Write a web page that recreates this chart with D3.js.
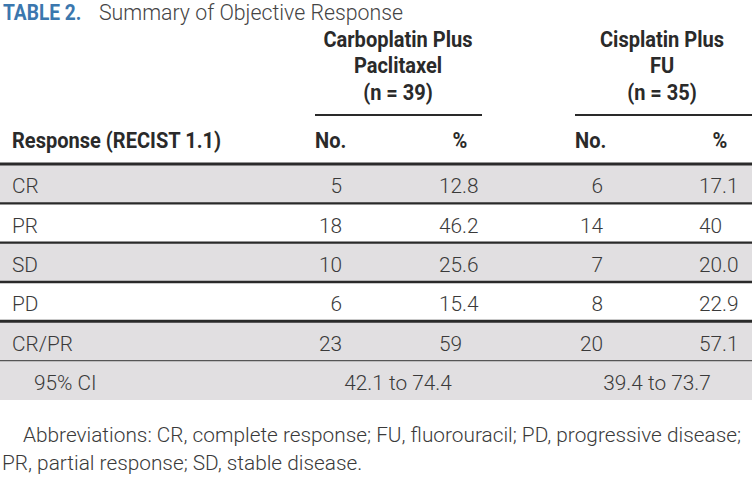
<!DOCTYPE html>
<html>
<head>
<meta charset="utf-8">
<script src="https://cdn.jsdelivr.net/npm/d3@7"></script>
<style>
  body { margin: 0; background: #fff; }
  svg { display: block; }
  text { font-family: Roboto, "Liberation Sans", sans-serif; }
</style>
</head>
<body>
<svg width="752" height="477"></svg>
<script>
// table values
const responses = ["CR", "PR", "SD", "PD", "CR/PR", "95% CI"];
const carboNo = [5, 18, 10, 6, 23];
const carboPct = ["12.8", "46.2", "25.6", "15.4", "59"];
const cisNo = [6, 14, 7, 8, 20];
const cisPct = ["17.1", "40", "20.0", "22.9", "57.1"];
const ciRanges = ["42.1 to 74.4", "39.4 to 73.7"];
const groups = [["Carboplatin Plus", "Paclitaxel", "(n = 39)"], ["Cisplatin Plus", "FU", "(n = 35)"]];
const shaded = ["CR", "SD", "CR/PR", "95% CI"];
const footLines = ["Abbreviations: CR, complete response; FU, fluorouracil; PD, progressive disease;",
                   "PR, partial response; SD, stable disease."];

const svg = d3.select("svg");
const ink = "#3a3a3a";
const fs = 21;

const y = d3.scaleBand().domain(responses).range([164, 400]);

// squeeze text horizontally so it reads like the condensed face of the original
function squeeze(sel, k) {
  sel.each(function() {
    const w = this.getComputedTextLength();
    d3.select(this).attr("textLength", w * k).attr("lengthAdjust", "spacingAndGlyphs");
  });
}

// title
const tag = svg.append("text").attr("x", 3).attr("y", 20).attr("font-size", 21.5)
  .attr("font-weight", "bold").attr("fill", "#3b77ae").text("TABLE 2.");
svg.append("text").attr("x", 99).attr("y", 20).attr("font-size", 21.3)
  .attr("font-family", "Lato, 'Open Sans', sans-serif").attr("font-weight", 300)
  .attr("fill", "#444").text("Summary of Objective Response");

const heads = svg.append("g").attr("font-weight", "bold").attr("font-size", 22.5).attr("fill", "#2a2a2a");

// group headers
const groupX = [{c: 398, x0: 315, x1: 482}, {c: 662, x0: 575, x1: 752}];
groups.forEach((lines, gi) => {
  lines.forEach((t, li) => {
    heads.append("text")
      .attr("x", groupX[gi].c).attr("y", 46.5 + li * 26.5)
      .attr("text-anchor", "middle").text(t);
  });
  svg.append("line").attr("x1", groupX[gi].x0).attr("x2", groupX[gi].x1)
    .attr("y1", 115).attr("y2", 115).attr("stroke", "#2a2a2a").attr("stroke-width", 2);
});

// column headers
const colHead = [
  {t: "Response (RECIST 1.1)", x: 12, a: "start"},
  {t: "No.", x: 315, a: "start"},
  {t: "%", x: 460, a: "middle"},
  {t: "No.", x: 575, a: "start"},
  {t: "%", x: 720, a: "middle"}
];
heads.selectAll(".colhead").data(colHead).enter().append("text")
  .attr("class", "colhead")
  .attr("x", d => d.x).attr("y", 148).attr("text-anchor", d => d.a)
  .text(d => d.t);

// row backgrounds
svg.selectAll(".rowbg").data(responses).enter().append("rect")
  .attr("x", 0).attr("width", 752)
  .attr("y", d => y(d)).attr("height", y.bandwidth())
  .attr("fill", d => shaded.includes(d) ? "#e1dfe1" : "#fff");

// row rules
svg.append("line").attr("x1", 0).attr("x2", 752).attr("y1", 164).attr("y2", 164)
  .attr("stroke", "#2a2a2a").attr("stroke-width", 3);
responses.slice(1).forEach(r => {
  const thin = r === "95% CI";
  const thick = r === "CR/PR";
  svg.append("line").attr("x1", 0).attr("x2", 752)
    .attr("y1", y(r)).attr("y2", y(r))
    .attr("stroke", thin ? "#555" : "#2a2a2a")
    .attr("stroke-width", thin ? 1.2 : (thick ? 3 : 2.4));
});

const body = svg.append("g").attr("font-size", fs).attr("fill", ink).attr("font-weight", 300);
const base = r => y(r) + y.bandwidth() / 2 + 9.5;

body.selectAll(".lab").data(responses).enter().append("text")
  .attr("x", d => d === "95% CI" ? 34 : 12).attr("y", d => base(d)).text(d => d);

const main = responses.slice(0, 5);
const cols = [
  {vals: carboNo, x: 342, a: "end"},
  {vals: carboPct, x: 439, a: "start"},
  {vals: cisNo, x: 603, a: "end"},
  {vals: cisPct, x: 699, a: "start"}
];
cols.forEach(c => {
  body.selectAll(null).data(main).enter().append("text")
    .attr("x", c.x).attr("y", d => base(d)).attr("text-anchor", c.a)
    .text((d, i) => c.vals[i]);
});
body.selectAll(".ci").data(ciRanges).enter().append("text")
  .attr("x", (d, i) => i === 0 ? 398 : 657).attr("y", base("95% CI"))
  .attr("text-anchor", "middle").text(d => d);

// footnote
const foot = body.append("g").attr("font-size", 21);
foot.selectAll("text").data(footLines).enter().append("text")
  .attr("x", (d, i) => i === 0 ? 23 : 2).attr("y", (d, i) => i === 0 ? 442 : 470)
  .text(d => d);

// condensed look: header width "Response (RECIST 1.1)" ~209px, footnote line ~718px in the original
const kHead = 209 / heads.select(".colhead").node().getComputedTextLength();
const kBody = 718 / foot.select("text").node().getComputedTextLength();
squeeze(heads.selectAll("text"), kHead);
squeeze(tag, kHead);
squeeze(body.selectAll("text"), kBody);
</script>
</body>
</html>
